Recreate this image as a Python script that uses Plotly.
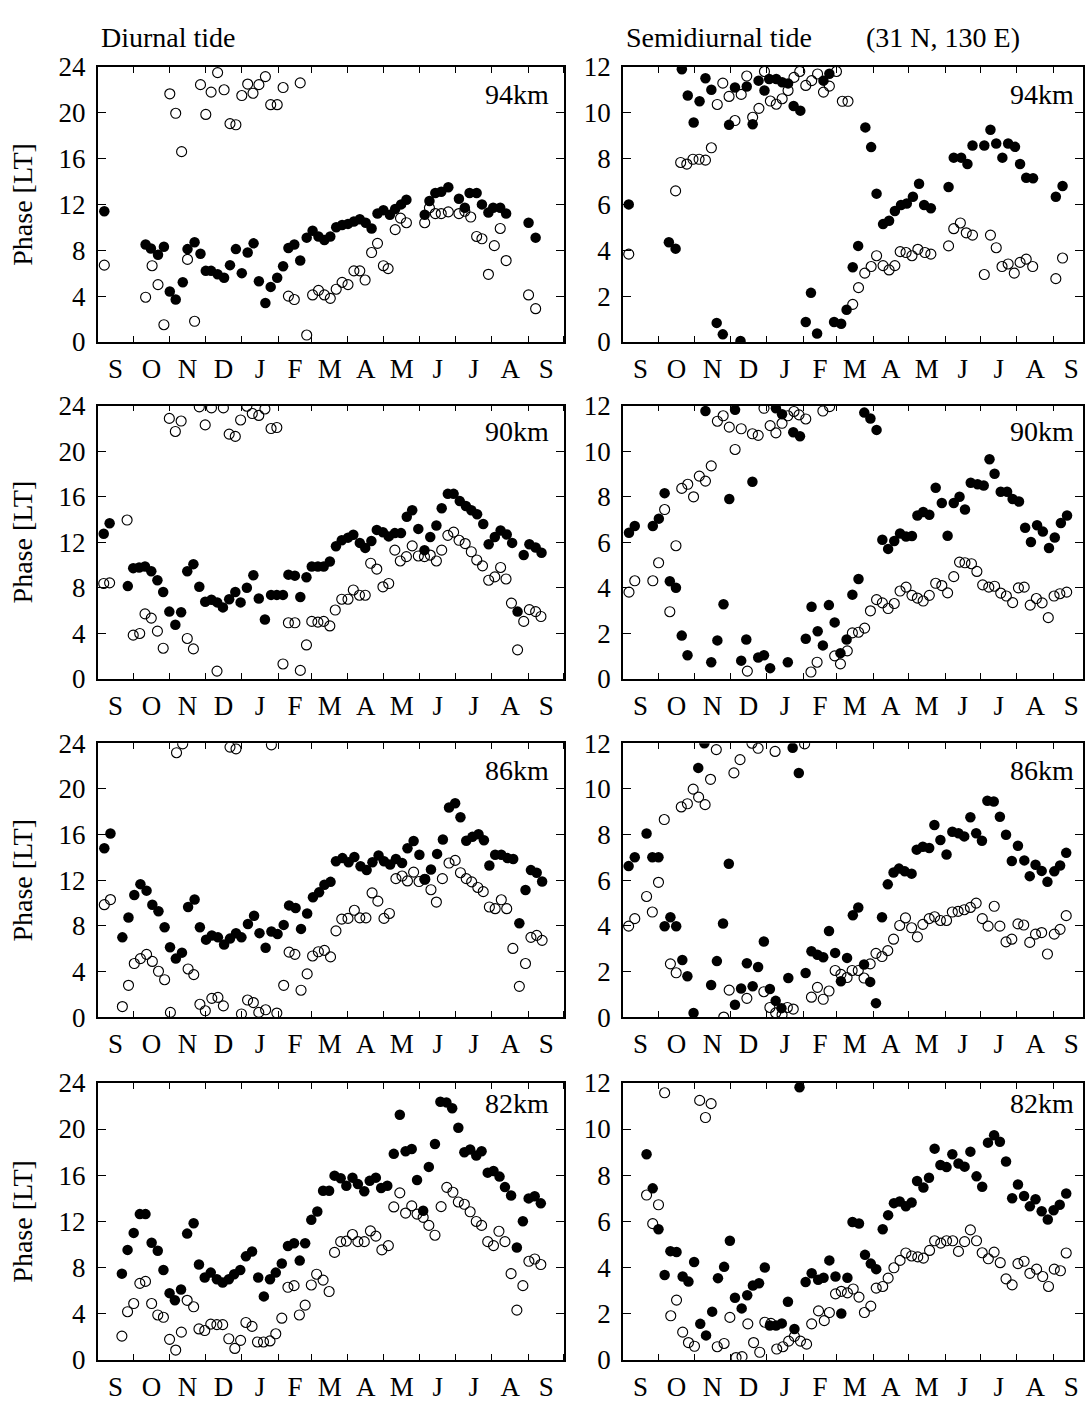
import plotly.graph_objects as go

# ---------------- axis definitions ----------------
MONTH_STARTS = [0, 30, 61, 91, 122, 153, 181, 212, 242, 273, 303, 334, 365, 395]  # days since 1 Sep
MONTH_LABELS = ["S", "O", "N", "D", "J", "F", "M", "A", "M", "J", "J", "A", "S"]
DIURNAL_TICKS = [0, 4, 8, 12, 16, 20, 24]
SEMI_TICKS = [0, 2, 4, 6, 8, 10, 12]
HEIGHT_LABELS = ["94km", "90km", "86km", "82km"]

# ---------------- data: (day since 1 Sep, phase LT) ----------------
# Diurnal 94 km
d94_filled = [(5.5,11.4),(40.5,8.5),(45,8.15),(51,7.6),(56,8.3),(61,4.4),(66,3.7),(72,5.2),(76,8.1),(82,8.7),
    (87,7.7),(91.5,6.2),(96,6.2),(101.5,5.9),(107,5.6),(112,6.7),(117,8.1),(122,6.0),(127,7.8),(132,8.6),
    (136.5,5.3),(142,3.4),(146.5,4.8),(152,5.6),(157,6.6),(161.5,8.2),(166.5,8.5),(171.5,7.1),(177,9.1),(182,9.7),
    (187,9.2),(192,8.9),(197,9.2),(202,10.0),(207,10.2),(212,10.3),(217,10.5),(222,10.7),(227,10.4),(232,9.9),
    (237,11.2),(242,11.5),(247.5,11.1),(252,11.6),(257,12.0),(261.5,12.4),(277,11.1),(281,12.3),(286,13.0),(291,13.1),
    (297,13.5),(306,12.5),(311,11.7),(315,13.0),(321,13.0),(325.5,12.0),(331,11.3),(335,11.7),(341,11.7),(346,11.2),
    (365,10.4),(371,9.1)]
d94_open = [(5.5,6.7),(40.5,3.9),(46,6.65),(51,5.0),(56,1.5),(61,21.65),(66,19.95),(71,16.6),(76,7.2),(82,1.8),
    (87,22.45),(91.5,19.85),(96,21.8),(101.5,23.5),(107,22.0),(112,19.05),(117,18.95),(122,21.5),(127,22.5),(131.5,21.7),
    (136.5,22.45),(142,23.15),(146.5,20.7),(152,20.7),(157,22.2),(161.5,4.0),(166.5,3.7),(171.5,22.6),(177,0.6),(182,4.1),
    (187,4.5),(192,4.1),(197,3.8),(202,4.6),(207,5.2),(212,5.0),(217,6.2),(222,6.2),(226.5,5.4),(232,7.8),
    (237,8.6),(242,6.65),(246,6.4),(252,9.8),(256.5,10.8),(261.5,10.4),(277,10.4),(281,11.7),(286,11.2),(291,11.2),
    (297,11.35),(306,11.2),(311,11.4),(316,10.9),(321,9.2),(325.5,9.0),(331,5.9),(336,8.4),(341,9.9),(346,7.1),
    (365,4.1),(371,2.9)]

# Semidiurnal 94 km
s94_filled = [(5,6.0),(39,4.35),(44.7,4.07),(50,11.9),(55,10.75),(60,9.57),(65,10.5),(70,11.5),(75,11.0),(79.5,0.83),
    (84.7,0.33),(90,9.47),(95,11.1),(99.7,0.04),(105,11.14),(110,9.5),(115,11.4),(120,10.97),(124,11.47),(130,11.47),
    (135,11.33),(140,11.28),(144.7,10.29),(150.4,10.09),(155,0.87),(159.4,2.14),(164.6,0.37),(170,11.4),(175,11.7),(179,0.87),
    (185,0.79),(189.6,1.4),(194.8,3.26),(199.4,4.19),(205.5,9.36),(210.4,8.5),(215,6.47),(220.5,5.14),(225.6,5.29),(230.5,5.71),
    (235.7,5.97),(240.6,6.04),(245.8,6.33),(251,6.9),(255.3,5.97),(261,5.83),(276,6.76),(280.4,8.04),(286.7,8.04),(292,7.76),
    (296.3,8.57),(306.3,8.57),(311.5,9.26),(316.4,8.66),(321.6,8.04),(326.5,8.66),(332.3,8.51),(336.6,7.76),(341.8,7.16),(347.6,7.14),
    (366.9,6.33),(372.6,6.8)]
s94_open = [(5,3.83),(44.7,6.59),(49,7.83),(54.2,7.76),(59.4,7.97),(64.6,7.97),(70,7.93),(75,8.47),(80,10.36),(84.7,11.29),
    (90,10.71),(95,9.66),(100.3,10.8),(105,11.6),(110,9.8),(115.3,10.19),(120,11.8),(125,10.51),(130,10.37),(135,10.61),
    (140,10.97),(145,11.54),(149.9,11.8),(155,11.19),(160,11.4),(165,11.69),(170,10.9),(175,11.16),(181,11.8),(186,10.5),
    (190.8,10.5),(194.8,1.64),(199.7,2.37),(205,3.0),(210.4,3.29),(215,3.76),(220.5,3.33),(225.6,3.14),(230.5,3.33),(235,3.94),
    (240,3.9),(245,3.76),(250,4.04),(256,3.9),(261,3.83),(276,4.19),(280.4,4.94),(286,5.19),(291,4.76),(296.3,4.66),
    (306.3,2.94),(311.5,4.66),(316.4,4.11),(321.3,3.29),(326.5,3.4),(331.7,3.0),(336.6,3.47),(341.8,3.61),(347.3,3.29),(366.9,2.76),
    (372.6,3.66)]

# Diurnal 90 km
d90_filled = [(5,12.73),(10,13.65),(25.4,8.13),(30,9.71),(35,9.77),(40,9.86),(45.3,9.43),(50.5,8.65),(55.4,7.61),(60.6,5.89),
    (65.7,4.74),(70.6,5.83),(75.8,9.43),(81,10.06),(86,8.07),(91,6.75),(96.3,6.93),(101.2,6.7),(106,6.26),(111.3,6.98),
    (116.5,7.61),(121,6.7),(126.3,7.99),(131.8,9.08),(136.4,7.04),(141.6,5.2),(146.8,7.36),(151.7,7.36),(156.9,7.36),(161.5,9.14),
    (167,9.05),(171.6,7.18),(176.8,8.91),(181.3,9.86),(186.5,9.86),(191.4,9.86),(196.6,10.29),(201.8,11.64),(206.7,12.16),(212,12.39),
    (216.5,12.64),(222,11.93),(226.6,11.49),(231.8,12.1),(236.4,13.07),(241.6,12.87),(246.5,12.5),(251.7,12.79),(256.9,12.79),(261.8,14.22),
    (266.4,14.8),(271.6,13.16),(276.8,11.29),(281.7,12.44),(286.9,13.45),(291.4,14.97),(296.6,16.24),(301.5,16.24),(306.7,15.6),(311.9,15.17),
    (316.5,14.8),(321.4,14.45),(326.6,13.59),(331.2,11.81),(336.4,12.44),(341.3,13.02),(346.5,12.67),(351.1,11.93),(355.7,5.89),(360.9,10.86),
    (365.7,11.81),(371,11.52),(376,11.06)]
d90_open = [(5,8.36),(10,8.42),(24.8,13.94),(30,3.82),(35.5,3.97),(40,5.69),(45.3,5.32),(50.5,4.17),(55.4,2.67),(60.6,22.87),
    (65.7,21.72),(70.6,22.64),(75.8,3.53),(81,2.61),(86,23.88),(91,22.3),(96.3,23.79),(101,0.66),(106.4,23.79),(111.3,21.49),
    (116.5,21.29),(121,22.73),(126.3,23.94),(130.9,23.3),(136.4,23.13),(141.6,23.7),(146.8,21.98),(151.7,22.07),(156.9,1.29),(161.5,4.91),
    (167,4.91),(171.6,0.72),(176.8,2.96),(181.3,5.03),(186.5,4.97),(191.4,5.03),(196.6,4.63),(201.2,6.03),(206.7,6.98),(212,6.98),
    (216.5,7.79),(221.7,7.33),(226.6,7.33),(231.2,10.14),(236.4,9.63),(241.6,8.07),(246.5,8.36),(251.7,11.29),(256.3,10.34),(261.5,10.72),
    (266.4,11.67),(271.6,10.78),(276.8,10.72),(281.7,10.86),(286.9,10.34),(291.4,11.29),(296.6,12.59),(301.5,12.87),(306.1,12.16),(311.3,11.87),
    (316.5,11.15),(321.1,10.43),(326,9.91),(331.2,8.65),(336.4,8.94),(341.3,9.77),(345.9,8.76),(350.5,6.64),(355.7,2.53),(360.9,5.03),
    (365.7,6.06),(371,5.89),(375.5,5.46)]

# Semidiurnal 90 km
s90_filled = [(5.2,6.41),(10.1,6.71),(25.4,6.71),(30.5,7.03),(35.4,8.15),(39.8,4.28),(45,3.99),(49.9,1.89),(54.8,1.03),(70,11.76),
    (74.9,0.72),(80.1,1.68),(85.3,3.27),(90.2,7.89),(95.1,11.81),(100.3,0.79),(104.6,1.72),(109.8,8.65),(114.7,0.93),(119.6,1.03),
    (124.8,0.46),(129.7,11.88),(134.9,11.62),(139.8,0.72),(144.4,10.83),(150.1,10.65),(155,1.75),(159.9,3.16),(165.1,2.08),(169.5,1.46),
    (174.6,3.23),(179.5,2.47),(184.4,1.12),(189.6,1.72),(194.5,3.69),(199.7,4.38),(204.6,11.69),(209.8,11.43),(215,10.93),(219.9,6.1),
    (224.8,5.7),(230,6.05),(234.9,6.38),(240,6.24),(245,6.27),(249.6,7.17),(254.5,7.32),(259.7,7.2),(265.1,8.39),(270.3,7.72),
    (275.2,6.28),(280.4,7.72),(285.3,7.99),(289.9,7.43),(294.8,8.61),(300.6,8.54),(305.8,8.49),(310.7,9.64),(315,9.0),(320.2,8.21),
    (325.6,8.21),(330.3,7.89),(335.7,7.78),(340.9,6.63),(345.8,6.0),(351,6.74),(355.9,6.46),(361.1,5.74),(366,6.2),(371.2,6.84),
    (376.4,7.17)]
s90_open = [(5.2,3.8),(10.1,4.3),(25.4,4.3),(30.3,5.09),(35.4,7.43),(39.8,2.94),(45,5.84),(49.9,8.36),(55,8.54),(59.9,7.99),
    (64.8,8.9),(70,8.68),(74.9,9.35),(80.1,11.31),(85,11.55),(90.2,11.05),(95.1,10.07),(100.3,10.98),(105.5,0.33),(109.8,10.76),
    (114.7,10.69),(119.6,11.88),(124.8,11.12),(129.7,10.8),(134.9,11.22),(139.8,11.55),(145,11.74),(149.3,11.59),(155,11.41),(159.4,0.29),
    (164.6,0.72),(169.5,11.76),(175.2,11.95),(179.5,1.0),(184.4,0.65),(190.2,1.22),(194.5,2.01),(199.7,2.04),(204.9,2.22),(209.8,2.98),
    (215,3.47),(219.9,3.33),(224.8,3.08),(230,3.3),(234.9,3.85),(240,4.02),(245,3.66),(249.6,3.54),(254.5,3.41),(259.7,3.66),
    (265.1,4.19),(270.3,4.09),(275.2,3.77),(280.4,4.48),(285.3,5.12),(289.9,5.09),(295.4,5.05),(300,4.71),(304.9,4.12),(310.1,4.02),
    (315,4.06),(320.2,3.76),(325,3.63),(330.3,3.34),(335.2,3.99),(340.1,4.02),(345.2,3.23),(350.4,3.52),(355.3,3.33),(360.5,2.68),
    (365.4,3.63),(370.3,3.73),(376.1,3.8)]

# Diurnal 86 km
d86_filled = [(5.5,14.8),(10.7,16.09),(20.8,7.0),(26,8.74),(30.9,10.71),(36.1,11.66),(41.3,11.09),(46.2,9.86),(51.4,9.29),(56.6,7.89),
    (61.2,6.14),(66.1,5.14),(71.3,5.66),(76.5,9.66),(82,10.31),(86.5,7.89),(91.7,6.8),(96.6,7.17),(101.8,7.0),(107,6.37),
    (112,6.89),(117.1,7.37),(121.7,7.0),(127.2,8.17),(132.4,8.89),(137,7.37),(142.2,6.09),(147.1,7.51),(152.3,7.29),(157.5,8.09),
    (162.1,9.8),(167.6,9.57),(172.2,7.74),(177.4,9.09),(182.3,10.51),(187.5,10.94),(192,11.6),(197.2,11.86),(201.8,13.66),(207.3,13.94),
    (212.5,13.57),(217.4,14.03),(222.6,13.23),(227.8,12.89),(232.7,13.57),(237.9,14.17),(242.5,13.66),(247.7,13.37),(252.6,13.86),(257.8,13.51),
    (262.4,14.8),(267.6,15.43),(272.5,14.23),(277.1,12.09),(282.3,12.94),(287.5,14.31),(292.4,15.57),(297.6,18.37),(302.8,18.74),(307.3,17.51),
    (312.2,15.46),(317.4,15.8),(322.6,16.03),(327.2,15.51),(331.8,13.29),(336.7,14.23),(341.9,14.23),(347.1,13.94),(352,13.86),(357.2,8.23),
    (362.4,11.14),(367,12.89),(371.9,12.66),(376.5,11.89)]
d86_open = [(5.5,9.86),(10.7,10.31),(20.8,0.94),(26,2.8),(30.9,4.71),(36.1,5.14),(41.3,5.51),(46.2,4.89),(51.4,4.03),(56.6,3.29),
    (61.5,0.43),(66.7,23.17),(71.9,23.94),(76.5,4.23),(81.3,3.74),(86.5,1.14),(91.1,0.57),(96.6,1.66),(101.8,1.74),(106.4,1.0),
    (112,23.66),(117.1,23.51),(121.7,0.29),(126.9,1.51),(131.8,1.29),(136.4,0.43),(142.2,0.66),(147.1,23.86),(151.7,0.37),(157.5,2.8),
    (162.1,5.71),(167,5.51),(172.2,2.37),(177.4,3.8),(182,5.37),(186.9,5.74),(192,5.86),(197.2,5.29),(201.8,7.57),(206.7,8.6),
    (212,8.66),(217.4,9.37),(222,8.71),(227.2,8.71),(232.4,10.89),(237.3,10.17),(242.5,8.66),(247.1,9.09),(252.6,12.14),(257.8,12.37),
    (262.4,11.94),(267.6,12.71),(272.2,11.89),(277.1,12.09),(282.3,11.17),(286.9,10.09),(292,12.14),(297.6,13.51),(302.8,13.74),(307.3,12.66),
    (312.2,12.14),(316.8,11.86),(322,11.37),(326.6,11.0),(331.8,9.66),(336.7,9.51),(341.9,10.29),(346.5,9.51),(351.7,6.03),(357.2,2.71),
    (362.4,4.71),(367,7.0),(371.9,7.17),(376.5,6.74)]

# Semidiurnal 86 km
s86_filled = [(4.9,6.62),(10.1,7.01),(20.1,8.05),(25,7.01),(30.2,7.01),(35.4,3.99),(40.3,4.38),(45.2,3.99),(50.4,2.51),(54.7,1.8),
    (59.9,0.19),(63.9,10.92),(69.1,12.0),(74.8,1.41),(79.7,2.46),(84.9,4.11),(89.8,6.72),(95,0.55),(100.2,1.26),(105.1,2.37),
    (110,1.36),(114.6,2.2),(119.5,3.32),(124.6,1.24),(129.5,0.72),(134.4,0.4),(140.2,1.72),(143.9,11.8),(149.1,10.7),(154.9,1.94),
    (159.8,2.89),(164.9,2.74),(169.8,2.63),(174.7,3.78),(179.9,2.82),(184.8,1.58),(190,2.6),(194.9,4.47),(199.5,4.81),(204.4,2.31),
    (209.6,1.55),(214.5,0.62),(219.6,4.38),(224.5,5.82),(229.4,6.34),(234,6.51),(238.9,6.39),(244.7,6.29),(249,7.34),(254.2,7.47),
    (259.6,7.41),(264,8.42),(269.1,7.76),(274.3,7.13),(279.2,8.12),(284.4,8.06),(289.3,7.92),(294.5,8.76),(299.4,8.06),(304.3,7.73),
    (308.9,9.48),(314.3,9.45),(319.5,8.78),(324.7,7.99),(329.6,6.84),(334.8,7.51),(340.2,6.87),(344.8,6.18),(349.7,6.68),(354.9,6.41),
    (359.8,5.93),(365.6,6.39),(370.5,6.65),(375.7,7.2)]
s86_open = [(4.9,3.99),(10.1,4.32),(20.1,5.29),(25,4.61),(30.2,5.91),(35.1,8.66),(40.3,2.34),(45.2,1.95),(49.5,9.21),(54.7,9.35),
    (59.6,9.99),(64.2,9.64),(69.7,9.31),(74.3,10.42),(79.2,11.72),(85.5,0.01),(90.1,1.19),(94.1,10.7),(99.3,11.28),(105.1,0.83),
    (109.4,12.0),(114.6,11.78),(119.5,1.12),(124.6,0.43),(129,11.64),(129.5,0.19),(134.9,0.11),(139.4,0.43),(144.4,0.36),(154,11.97),
    (159.8,0.88),(164.9,1.31),(169.8,0.79),(174.7,1.15),(179.9,2.05),(184.8,1.88),(190,1.74),(194.3,2.05),(199.5,2.05),(204.4,1.72),
    (209.6,2.34),(214.5,2.8),(219.6,2.66),(224.5,2.92),(229.4,3.42),(234.6,4.02),(239.5,4.35),(244.7,3.92),(249.6,3.52),(254.2,4.07),
    (259.6,4.32),(264.2,4.4),(269.1,4.24),(274.3,4.24),(279.2,4.61),(284.1,4.64),(289.3,4.71),(294.5,4.81),(299.4,5.0),(304.6,4.32),
    (309.5,3.99),(314.7,4.86),(319.5,3.99),(324.7,3.3),(329.6,3.42),(334.8,4.09),(339.7,4.04),(344.8,3.28),(349.7,3.64),(354.9,3.71),
    (359.8,2.77),(365.6,3.64),(370.5,3.85),(375.7,4.45)]

# Diurnal 82 km
d82_filled = [(20.4,7.47),(25.2,9.53),(30.4,11.0),(35.6,12.63),(40.4,12.63),(45.6,10.15),(50.8,9.45),(55.6,7.78),(60.8,5.78),(65.3,5.16),
    (70.5,6.09),(75.7,10.94),(81.2,11.84),(85.7,8.26),(90.6,7.13),(95.7,7.56),(100.9,6.99),(105.8,6.71),(111,6.99),(115.5,7.42),
    (120.7,7.78),(125.5,8.97),(130.7,9.39),(135.9,7.13),(140.7,5.5),(145.9,6.99),(150.8,7.56),(155.9,8.35),(161.1,9.87),(166.3,10.1),
    (171.1,8.6),(175.7,10.1),(180.9,12.13),(186,12.86),(190.9,14.66),(196,14.66),(200.6,15.96),(205.8,15.74),(210.6,15.09),(215.8,15.79),
    (220.4,15.23),(225.8,14.61),(230.4,15.51),(235.6,15.79),(240.1,14.89),(245.3,15.09),(250.8,17.85),(255.9,21.24),(260.8,18.08),(266,18.27),
    (270.5,15.59),(275.7,12.92),(280.5,16.72),(285.7,18.7),(290.3,22.36),(295.4,22.31),(300.3,21.8),(305.5,20.11),(310.6,17.99),(315.5,18.22),
    (320.7,17.71),(325.2,18.08),(330.4,16.22),(335.3,16.36),(340.4,15.88),(345,14.97),(350.2,14.24),(355.1,9.73),(360.2,12.01),(365.1,13.99),
    (370.2,14.18),(375.4,13.56)]
d82_open = [(20.4,2.06),(25.2,4.17),(30.4,4.88),(35.6,6.63),(40.4,6.8),(45.6,4.88),(50.8,3.89),(55.6,3.69),(60.8,1.78),(66,0.85),
    (70.8,2.4),(75.7,5.16),(81.2,4.6),(85.7,2.68),(90.6,2.54),(95.7,3.1),(100.9,3.05),(105.8,3.05),(111,1.83),(116.1,0.99),
    (121,1.69),(125.5,3.24),(130.7,2.9),(135.3,1.55),(140.4,1.55),(145.9,1.64),(150.8,2.26),(155.9,3.61),(161.1,6.29),(166.3,6.43),
    (170.8,3.89),(175.7,4.74),(180.9,6.49),(185.4,7.42),(190.9,6.91),(196,5.92),(200.6,9.31),(205.8,10.24),(210.6,10.29),(215.8,10.86),
    (220.4,10.24),(225.8,10.24),(231,11.17),(235.6,10.72),(240.7,9.53),(246.2,9.9),(250.8,13.25),(255.9,14.47),(260.8,12.72),(266,13.34),
    (270.5,12.63),(275.7,12.35),(280.5,11.65),(285.7,10.8),(290.9,13.28),(295.7,14.95),(300.9,14.52),(305.5,13.68),(310.6,13.48),(315.5,12.83),
    (320.7,11.99),(325.2,11.65),(330.4,10.24),(335.3,9.9),(339.9,11.14),(345,10.24),(350.2,7.47),(355.1,4.31),(360.2,6.43),(365.3,8.54),
    (370.2,8.74),(375.4,8.26)]

# Semidiurnal 82 km
s82_filled = [(20.1,8.91),(25.3,7.43),(30.2,5.66),(35.4,3.68),(40.3,4.71),(45.5,4.67),(50.7,3.61),(55.6,3.39),(60.4,4.24),(65.6,1.56),
    (70.5,1.06),(75.7,2.09),(80.6,3.54),(85.8,4.03),(90.7,5.16),(95,2.69),(100.7,2.23),(105.4,2.8),(110.2,3.22),(115.4,3.32),
    (120.3,4.0),(124.6,1.49),(129.8,1.49),(134.7,1.58),(139.9,2.52),(145.4,1.34),(149.7,11.81),(154.9,3.37),(160,3.75),(165.5,3.47),
    (170.1,3.56),(175,4.31),(180.2,3.61),(185.1,2.01),(190.3,3.56),(194.6,5.97),(200.1,5.91),(205.2,4.55),(210.1,4.17),(214.7,3.93),
    (220.2,5.66),(224.8,6.27),(229.7,6.79),(234.6,6.86),(239.8,6.65),(244.7,6.82),(249.3,7.75),(254.7,7.47),(259.4,7.89),(264.2,9.15),
    (269.1,8.44),(274.3,8.35),(279.2,8.91),(284.4,8.51),(289.6,8.37),(294.5,9.02),(299.7,7.95),(304.5,7.5),(309.4,9.41),(314.6,9.73),
    (319.5,9.45),(324.7,8.59),(329.9,7.0),(334.8,7.6),(340,7.1),(344.9,6.65),(349.7,6.96),(354.9,6.44),(360.1,6.08),(365,6.48),
    (370.2,6.72),(375.7,7.21)]
s82_open = [(20.1,7.14),(25.3,5.9),(30.2,6.72),(35.4,11.57),(40.6,1.91),(45.5,2.59),(50.7,1.2),(55.6,0.75),(60.7,0.59),(65.1,11.24),
    (70,10.5),(74.8,11.1),(80,0.57),(85.8,0.71),(90.7,1.84),(95.9,0.1),(101,0.14),(105.9,1.56),(110.8,0.75),(116,0.33),
    (120.3,1.63),(125.5,1.58),(130.4,0.47),(135.6,0.57),(140.5,0.81),(145.4,1.02),(150.5,0.81),(155.7,0.68),(160,1.56),(165.8,2.12),
    (170.7,1.7),(175,2.05),(180.2,2.86),(185.1,2.97),(190.3,2.9),(195.2,3.07),(200.1,2.72),(204.7,2.05),(210.1,2.33),(214.7,3.11),
    (220.2,3.18),(224.8,3.54),(229.7,3.99),(234.9,4.31),(239.8,4.63),(244.7,4.5),(249.9,4.46),(254.7,4.41),(259.9,4.74),(264.2,5.16),
    (269.4,5.06),(274.3,5.16),(279.5,5.16),(284.4,4.7),(289.6,5.12),(294.5,5.63),(299.7,5.16),(304.5,4.64),(309.7,4.38),(314.6,4.67),
    (319.8,4.21),(324.7,3.51),(329.9,3.25),(334.8,4.17),(340,4.27),(344.9,3.75),(350.6,3.93),(355.8,3.61),(360.7,3.18),(365.6,3.93),
    (370.8,3.86),(375.7,4.63)]

PANELS = [
    [(d94_filled, d94_open), (s94_filled, s94_open)],
    [(d90_filled, d90_open), (s90_filled, s90_open)],
    [(d86_filled, d86_open), (s86_filled, s86_open)],
    [(d82_filled, d82_open), (s82_filled, s82_open)],
]

# ---------------- layout geometry ----------------
W, H = 1085, 1415
PANEL_W = 467                     # px for the full Sep..Sep span
X_LEFT = [98, 624]                # left edge of each column (px)
Y_PX = [(53, 334), (399, 678), (744, 1024), (1091, 1374)]
LABEL_Y = [0.90, 0.905, 0.90, 0.925]
FONT = "Liberation Serif, Times New Roman, serif"
TICK_FONT = dict(family=FONT, size=27, color="black")
month_mids = [(MONTH_STARTS[i] + MONTH_STARTS[i + 1]) / 2 for i in range(13)]

fig = go.Figure()
layout = {}
annotations = []
for r in range(4):
    for c in range(2):
        i = r * 2 + c + 1
        xname = "x" if i == 1 else f"x{i}"
        yname = "y" if i == 1 else f"y{i}"
        filled, opened = PANELS[r][c]
        fig.add_trace(go.Scatter(
            x=[p[0] for p in opened], y=[p[1] for p in opened], mode="markers",
            marker=dict(symbol="circle-open", size=10, color="black", line=dict(width=1.15, color="black")),
            xaxis=xname, yaxis=yname, showlegend=False, hoverinfo="skip"))
        fig.add_trace(go.Scatter(
            x=[p[0] for p in filled], y=[p[1] for p in filled], mode="markers",
            marker=dict(symbol="circle", size=10.5, color="black", line=dict(width=0)),
            xaxis=xname, yaxis=yname, showlegend=False, hoverinfo="skip"))
        left = X_LEFT[c]
        right = min(left + PANEL_W, W)
        xmax = MONTH_STARTS[-1] * (right - left) / PANEL_W
        top_px, bot_px = Y_PX[r]
        layout[f"xaxis{i}"] = dict(
            domain=[left / W, right / W], anchor=yname, range=[0, xmax],
            tickmode="array", tickvals=month_mids, ticktext=MONTH_LABELS, ticks="",
            tickfont=TICK_FONT, ticklabelstandoff=2,
            minor=dict(tickmode="array", tickvals=MONTH_STARTS, ticks="inside", ticklen=6,
                       tickwidth=1.3, tickcolor="black", showgrid=False),
            showline=True, linecolor="black", linewidth=1.6, mirror="ticks",
            showgrid=False, zeroline=False, fixedrange=True)
        ticks = DIURNAL_TICKS if c == 0 else SEMI_TICKS
        ya = dict(
            domain=[1 - bot_px / H, 1 - top_px / H], anchor=xname, range=[0, ticks[-1]],
            tickmode="array", tickvals=ticks, ticks="inside", ticklen=8, tickwidth=1.3, tickcolor="black",
            tickfont=TICK_FONT, ticklabelstandoff=5,
            showline=True, linecolor="black", linewidth=1.6, mirror="ticks",
            showgrid=False, zeroline=False, fixedrange=True)
        if c == 0:
            ya["title"] = dict(text="Phase [LT]", font=dict(family=FONT, size=28, color="black"), standoff=18)
        layout[f"yaxis{i}"] = ya
        annotations.append(dict(
            text=HEIGHT_LABELS[r], xref="paper", yref=f"{yname} domain",
            x=(left + 0.972 * PANEL_W) / W, y=LABEL_Y[r], xanchor="right", yanchor="middle", showarrow=False,
            font=dict(family=FONT, size=28, color="black")))

HEADER_FONT = dict(family=FONT, size=28, color="black")
annotations += [
    dict(text="Diurnal tide", xref="paper", yref="paper", x=99 / W, y=1 - 23 / H,
         xanchor="left", yanchor="middle", showarrow=False, font=HEADER_FONT),
    dict(text="Semidiurnal tide", xref="paper", yref="paper", x=625 / W, y=1 - 23 / H,
         xanchor="left", yanchor="middle", showarrow=False, font=HEADER_FONT),
    dict(text="(31 N, 130 E)", xref="paper", yref="paper", x=866 / W, y=1 - 23 / H,
         xanchor="left", yanchor="middle", showarrow=False, font=HEADER_FONT),
]

fig.update_layout(
    width=W, height=H, margin=dict(l=0, r=0, t=0, b=0),
    paper_bgcolor="white", plot_bgcolor="white",
    annotations=annotations, **layout)

fig.write_html("out.html")
